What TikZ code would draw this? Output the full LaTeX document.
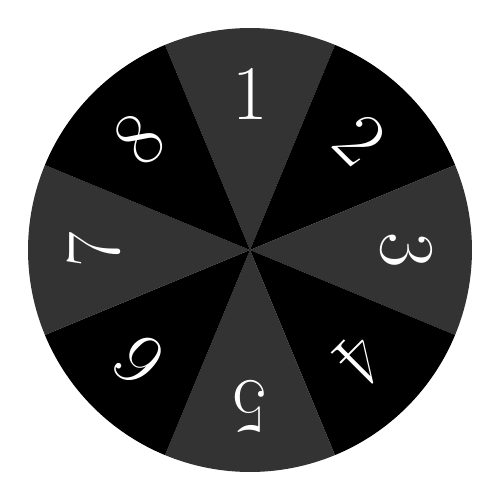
\documentclass[tikz,border=0pt]{standalone}
\usepackage{tikz}
\usetikzlibrary{calc}
\begin{document}
\begin{tikzpicture}[scale = 0.2]

    \tikzset{
      sector/.style={
        draw=none,
      },
      digit/.style={
        text=white,
        inner sep=0pt,
        font=\fontsize{44}{44}\selectfont,
      },
    }
    \useasboundingbox (-25,-25) rectangle (25,25);
    \coordinate (O) at (0,0);
    	\fill[sector,color={black!80}] (O)--(67.5:22.2) arc (67.5:112.5:22.2)--cycle;
	\fill[sector,color={black}] (O)--(22.5:22.2) arc (22.5:67.5:22.2)--cycle;
	\fill[sector,color={black!80}] (O)--(-22.5:22.2) arc (-22.5:22.5:22.2)--cycle;
	\fill[sector,color={black}] (O)--(-67.5:22.2) arc (-67.5:-22.5:22.2)--cycle;
	\fill[sector,color={black!80}] (O)--(-112.5:22.2) arc (-112.5:-67.5:22.2)--cycle;
	\fill[sector,color={black}] (O)--(-157.5:22.2) arc (-157.5:-112.5:22.2)--cycle;
	\fill[sector,color={black!80}] (O)--(157.5:22.2) arc (157.5:202.5:22.2)--cycle;
	\fill[sector,color={black}] (O)--(112.5:22.2) arc (112.5:157.5:22.2)--cycle;
	\node[digit,rotate = 0] (n1) at (90:15.6) {1};
	\node[digit,rotate = -45] (n2) at (45:15.6) {2};
	\node[digit,rotate = -90] (n3) at (0:15.6) {3};
	\node[digit,rotate = -135] (n4) at (-45:15.6) {4};
	\node[digit,rotate = 180] (n5) at (-90:15.6) {5};
	\node[digit,rotate = 135] (n6) at (-135:15.6) {6};
	\node[digit,rotate = 90] (n7) at (180:15.6) {7};
	\node[digit,rotate = 45] (n8) at (135:15.6) {8};

\end{tikzpicture}
\end{document}
